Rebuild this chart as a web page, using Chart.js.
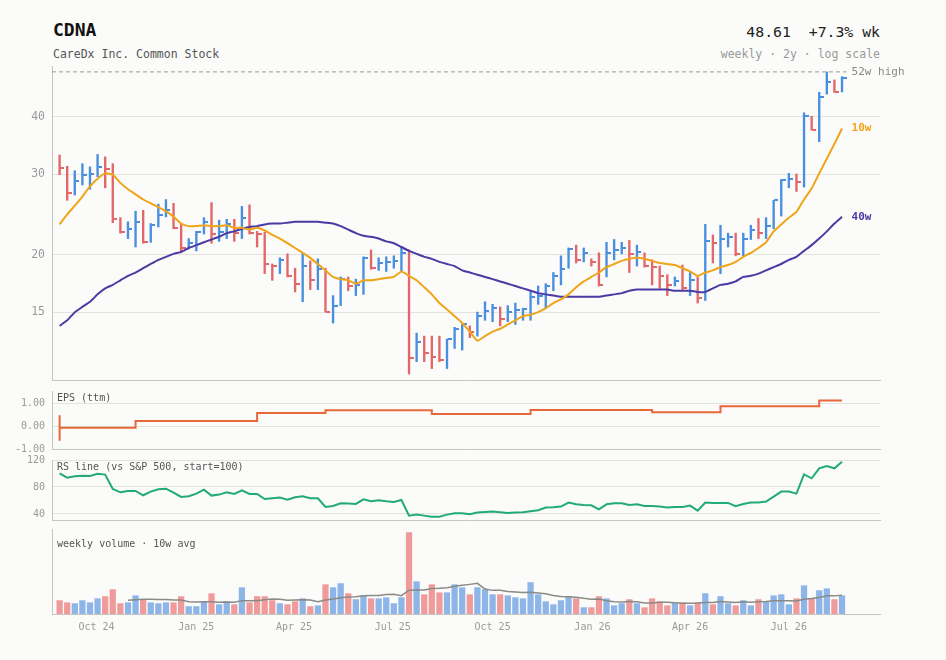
<!DOCTYPE html>
<html><head><meta charset="utf-8">
<script src="https://cdn.jsdelivr.net/npm/chart.js@4.4.1/dist/chart.umd.min.js"></script>
<style>
html,body{margin:0;padding:0;background:#fbfbf9;}
body{width:946px;height:660px;position:relative;overflow:hidden;font-family:"DejaVu Sans Mono",monospace;}
.cv{position:absolute;left:0;}
.t{position:absolute;white-space:pre;}
</style></head><body>
<div class="t" style="left:53px;top:21px;font-size:18px;line-height:18px;font-weight:bold;color:#111">CDNA</div>
<div class="t" style="left:53px;top:47px;font-size:11.5px;line-height:14px;color:#555">CareDx Inc. Common Stock</div>
<div class="t" style="right:66px;top:22.5px;font-size:14.8px;line-height:18px;color:#222;text-align:right">48.61  +7.3% wk</div>
<div class="t" style="right:66px;top:47px;font-size:11.5px;line-height:14px;color:#999;text-align:right">weekly · 2y · log scale</div>

<canvas id="cPrice" class="cv" style="top:60px" width="946" height="325"></canvas>
<canvas id="cEps" class="cv" style="top:383px" width="946" height="73"></canvas>
<canvas id="cRs" class="cv" style="top:452px" width="946" height="71"></canvas>
<canvas id="cVol" class="cv" style="top:522px" width="946" height="112"></canvas>

<div class="t" style="left:57px;top:392px;font-size:10px;line-height:12px;color:#555">EPS (ttm)</div>
<div class="t" style="left:57px;top:461px;font-size:10px;line-height:12px;color:#555">RS line (vs S&amp;P 500, start=100)</div>
<div class="t" style="left:57px;top:538px;font-size:10px;line-height:12px;color:#555">weekly volume · 10w avg</div>

<script>
// ---------------- data ----------------
const firstWeek = '2024-08-28';
const tickDates = ['2024-10-01','2025-01-01','2025-04-01','2025-07-01','2025-10-01','2026-01-01','2026-04-01','2026-07-01'];
const tickLabels = ['Oct 24','Jan 25','Apr 25','Jul 25','Oct 25','Jan 26','Apr 26','Jul 26'];
const priceTicks = [15, 20, 30, 40];
const epsTicks = [-1, 0, 1];
const rsTicks = [40, 80, 120];

const prevClose0 = 31.6;
const closes = [31.0,27.3,29.0,29.9,30.0,31.1,30.8,24.0,22.4,22.8,
  23.6,21.3,23.2,24.4,25.0,22.9,20.7,21.2,22.4,23.6,
  22.2,22.4,23.3,22.3,24.1,22.3,22.2,19.1,18.9,19.5,
  18.0,17.3,18.9,17.6,18.6,15.0,15.5,17.7,17.1,17.2,
  19.7,18.7,19.2,19.3,19.4,20.2,11.9,12.9,12.2,12.0,
  11.8,13.1,13.8,14.1,13.6,14.7,15.1,15.3,14.5,15.0,
  15.15,15.25,16.2,16.3,17.1,18.0,18.6,20.6,19.5,20.2,
  19.3,17.2,20.2,20.5,20.7,20.1,20.3,18.9,18.8,18.0,
  17.2,17.5,16.9,17.6,16.1,21.4,21.2,21.6,21.9,20.1,
  21.6,22.6,22.3,23.1,26.3,29.1,29.3,28.8,40.1,37.4,
  44.1,47.5,45.3,48.61];
const highs = [33.0,31.2,30.5,31.6,31.1,33.1,32.7,31.6,24.1,23.6,
  24.9,25.0,23.4,25.8,26.4,25.9,23.3,21.7,22.5,24.1,
  26.0,23.8,23.9,23.9,25.5,25.7,22.5,22.4,19.1,19.7,
  20.1,18.7,20.2,19.4,19.6,18.7,16.3,17.9,17.9,17.7,
  19.8,20.5,19.7,19.8,19.9,20.8,20.5,13.5,13.3,13.3,
  13.3,13.1,13.9,14.1,14.0,15.0,15.8,15.6,15.4,15.5,
  15.7,15.3,16.6,17.1,17.3,18.3,19.9,20.7,21.0,20.7,
  19.6,20.2,21.3,21.6,21.3,21.5,21.0,20.2,19.5,18.9,
  18.1,17.9,19.0,18.3,17.9,23.3,22.1,23.2,22.3,22.3,
  22.3,23.2,24.0,24.1,26.3,29.2,30.1,30.0,40.8,40.1,
  45.2,50.1,48.1,48.9];
const lows = [29.9,26.3,27.0,28.4,27.8,29.6,28.0,23.5,22.3,21.7,
  20.8,21.2,21.3,23.0,24.2,22.8,20.2,20.6,20.4,22.2,
  21.2,21.4,21.7,21.4,21.7,22.2,20.8,18.2,17.6,18.2,
  17.9,16.6,15.8,16.8,16.8,15.0,14.2,15.5,16.7,16.3,
  16.4,18.6,18.5,18.4,18.7,18.4,11.0,11.7,11.7,11.3,
  11.7,11.3,12.5,12.4,13.2,13.3,14.4,14.3,14.0,14.3,
  14.1,14.4,14.4,15.6,15.3,16.7,17.2,18.7,19.2,19.3,
  18.9,17.1,17.9,19.5,20.1,18.3,18.9,18.8,17.2,16.9,
  16.3,17.1,16.8,16.3,15.7,15.9,19.2,18.2,20.8,19.9,
  19.9,21.6,21.7,21.7,22.8,24.3,28.0,27.5,28.1,37.4,
  35.3,44.8,45.2,45.3];
const ma10 = [23.3,24.5,25.6,26.8,28.2,29.3,30.1,29.9,28.7,27.8,
  27.1,26.4,25.9,25.4,24.9,24.2,23.4,23.1,23.1,23.2,
  23.1,23.1,23.2,22.9,22.9,22.7,22.9,22.6,22.1,21.7,
  21.2,20.7,20.2,19.7,19.1,18.5,17.9,17.7,17.6,17.3,
  17.6,17.6,17.7,17.8,17.9,18.4,18.0,17.6,17.0,16.4,
  15.7,15.2,14.7,14.2,13.6,13.0,13.3,13.6,13.8,14.1,
  14.4,14.7,14.8,15.0,15.3,15.7,16.0,16.4,17.0,17.5,
  17.9,18.3,18.8,19.1,19.4,19.6,19.7,19.6,19.4,19.2,
  19.1,19.0,18.7,18.4,18.0,18.3,18.5,18.8,19.0,19.3,
  19.8,20.2,20.7,21.3,22.5,23.3,24.1,24.8,26.4,27.9,
  30.1,32.4,34.9,37.7];
const ma40 = [14.0,14.4,15.0,15.4,15.8,16.4,16.9,17.2,17.6,18.0,
  18.3,18.7,19.1,19.5,19.8,20.1,20.3,20.7,21.0,21.3,
  21.6,21.9,22.3,22.5,22.8,23.0,23.1,23.3,23.4,23.4,
  23.5,23.6,23.6,23.6,23.6,23.5,23.4,23.1,22.7,22.3,
  22.0,21.9,21.7,21.4,21.2,20.8,20.4,20.1,19.8,19.6,
  19.3,19.1,18.9,18.5,18.3,18.1,17.9,17.7,17.5,17.3,
  17.1,16.9,16.7,16.5,16.4,16.3,16.2,16.2,16.2,16.2,
  16.2,16.2,16.3,16.4,16.5,16.7,16.8,16.8,16.8,16.8,
  16.8,16.7,16.7,16.7,16.6,16.6,16.9,17.2,17.3,17.5,
  17.9,18.0,18.2,18.5,18.8,19.1,19.5,19.8,20.4,21.0,
  21.7,22.5,23.4,24.2];
const volumes = [0.63,0.53,0.49,0.63,0.53,0.72,0.82,1.15,0.49,0.53,
  0.86,0.68,0.53,0.49,0.53,0.53,0.82,0.35,0.35,0.58,
  0.96,0.44,0.58,0.44,1.24,0.53,0.82,0.82,0.63,0.49,
  0.44,0.58,0.72,0.35,0.39,1.38,1.24,1.43,0.96,0.68,
  0.86,0.72,0.72,0.77,0.49,0.77,3.83,1.52,0.91,1.38,
  1.00,1.00,1.38,1.24,0.91,1.24,1.15,0.91,0.91,0.86,
  0.77,0.72,1.48,0.91,0.58,0.44,0.63,0.82,0.72,0.30,
  0.30,0.82,0.72,0.39,0.49,0.68,0.49,0.30,0.72,0.58,
  0.39,0.53,0.53,0.39,0.53,0.96,0.44,0.82,0.49,0.39,
  0.63,0.39,0.68,0.58,0.86,0.91,0.44,0.72,1.33,0.72,
  1.10,1.19,0.68,0.86];
const rsLine = [100,93.8,95.8,96.8,96.3,99.7,98.3,77.0,72.1,74.1,
  74.1,67.7,73.1,76.5,77.5,71.6,65.2,66.2,70.1,76.0,
  67.2,68.7,72.1,69.6,75.1,69.6,69.6,62.2,63.2,64.2,
  61.2,64.7,66.2,63.2,63.2,50.4,51.9,55.8,55.3,54.8,
  61.7,58.8,60.2,58.8,57.8,60.7,37.5,39.0,37.5,36.0,
  36.0,39.0,41.0,41.0,39.5,42.0,43.0,43.5,42.5,41.5,
  42.0,42.5,44.0,45.4,49.4,49.9,50.9,56.8,54.3,53.3,
  52.8,46.9,54.3,55.8,55.8,53.3,54.3,51.9,51.9,50.9,
  49.4,50.4,50.4,52.4,44.9,56.8,56.3,56.3,56.3,51.4,
  54.8,56.8,56.8,58.3,65.7,73.1,73.1,70.1,98.8,92.9,
  107.7,111.1,107.7,117.5];
const epsWeek  = [0, 0, 0, 10, 26, 35, 49, 62, 78, 87, 100, 103];
const epsValue = [0.48, -0.64, -0.07, 0.23, 0.58, 0.70, 0.54, 0.71, 0.62, 0.88, 1.13, 1.13];

// ---------------- style ----------------
const FONT = '"DejaVu Sans Mono", monospace';
const UP = '#4a8fdf', DN = '#e2676b', UPV = '#8db5e8', DNV = '#f09b9b';
const ORANGE = '#f0a417', PURPLE = '#4b3aa3', EPSC = '#e8683a', RSC = '#22aa78', VAVG = '#8a8a86';
const GRID = '#e3e3dd', AXIS = '#c6c6be', TICK = '#9a9a9a';

const WEEK = 7 * 864e5;
const tickPos = tickDates.map(d => (Date.parse(d) - Date.parse(firstWeek)) / WEEK);
const up = closes.map((c, i) => c > (i ? closes[i - 1] : prevClose0));
const last = closes.length - 1;
const hi52 = Math.max(...highs.slice(-52));
const volAvg = volumes.map((v, i) => i < 9 ? null : volumes.slice(i - 9, i + 1).reduce((a, b) => a + b, 0) / 10);

function tickImg(color) {
  const c = document.createElement('canvas');
  c.width = 9; c.height = 2;
  const g = c.getContext('2d');
  g.fillStyle = color; g.fillRect(5, 0, 4, 2);
  return c;
}
const tickUp = tickImg(UP), tickDn = tickImg(DN);

function xAxis(showTicks) {
  return {
    type: 'linear', min: -1, max: 108, offset: false,
    grid: { display: false, drawTicks: false },
    border: { display: true, color: AXIS, width: 1 },
    afterBuildTicks: s => { s.ticks = tickPos.map(v => ({ value: v })); },
    afterFit: s => { s.height = showTicks ? 20 : 0; s.paddingLeft = 0; s.paddingRight = 0; },
    ticks: { display: showTicks, autoSkip: false, maxRotation: 0, minRotation: 0, padding: 7,
      color: TICK, font: { family: FONT, size: 10 }, callback: (v, i) => tickLabels[i] }
  };
}
function yAxis(extra, tickVals, fmt, size) {
  const base = {
    position: 'left',
    afterFit: s => { s.width = 52; s.paddingTop = 0; s.paddingBottom = 0; },
    grid: { color: GRID, drawTicks: false, lineWidth: 1 },
    border: { display: true, color: AXIS, width: 1 },
    ticks: { padding: 7, color: TICK, font: { family: FONT, size: size || 10 }, autoSkip: false,
      callback: fmt || (v => String(v)) }
  };
  if (tickVals) base.afterBuildTicks = s => { s.ticks = tickVals.map(v => ({ value: v })); };
  return Object.assign(base, extra);
}
const common = {
  responsive: false, animation: false,
  plugins: { legend: { display: false }, tooltip: { enabled: false } },
  events: []
};

// ---------------- price panel ----------------
const priceLabels = {
  id: 'priceLabels',
  afterDatasetsDraw(chart) {
    const { ctx, scales: { x, y } } = chart;
    const lx = x.getPixelForValue(last) + 9.5;
    ctx.save();
    ctx.textBaseline = 'middle';
    ctx.font = '11px ' + FONT; ctx.fillStyle = '#8a8a8a';
    ctx.fillText('52w high', lx, y.getPixelForValue(hi52));
    ctx.font = 'bold 11px ' + FONT;
    ctx.fillStyle = ORANGE; ctx.fillText('10w', lx, y.getPixelForValue(ma10[last]));
    ctx.fillStyle = PURPLE; ctx.fillText('40w', lx, y.getPixelForValue(ma40[last]));
    ctx.restore();
  }
};
new Chart(document.getElementById('cPrice'), {
  type: 'bar',
  data: { datasets: [
    { type: 'line', label: '52w high', data: [{ x: -1, y: hi52 }, { x: last + 0.6, y: hi52 }],
      borderColor: '#9a9a9a', borderWidth: 1, borderDash: [4, 3], pointRadius: 0, order: 0 },
    { type: 'line', label: '10w', data: ma10.map((v, i) => ({ x: i, y: v })),
      borderColor: ORANGE, borderWidth: 2, pointRadius: 0, tension: 0.15, order: 0 },
    { type: 'line', label: '40w', data: ma40.map((v, i) => ({ x: i, y: v })),
      borderColor: PURPLE, borderWidth: 2, pointRadius: 0, tension: 0.15, order: 0 },
    { type: 'line', label: 'close', data: closes.map((v, i) => ({ x: i, y: v })), showLine: false,
      pointStyle: c => up[c.dataIndex] ? tickUp : tickDn, pointRadius: 3, order: 1 },
    { type: 'bar', label: 'range', data: highs.map((h, i) => ({ x: i, y: [lows[i], h] })),
      backgroundColor: up.map(u => u ? UP : DN), barThickness: 1.7, borderWidth: 0, order: 2 }
  ] },
  options: Object.assign({}, common, {
    layout: { padding: { left: 0, right: 66, top: 6, bottom: 4 } },
    scales: {
      x: xAxis(false),
      y: yAxis({ type: 'logarithmic', min: 10.67, max: 51.6 }, priceTicks, v => String(v), 11.5)
    }
  }),
  plugins: [priceLabels]
});

// ---------------- EPS panel ----------------
new Chart(document.getElementById('cEps'), {
  type: 'line',
  data: { datasets: [
    { data: epsWeek.map((w, i) => ({ x: w, y: epsValue[i] })), stepped: 'before',
      borderColor: EPSC, borderWidth: 2, pointRadius: 0 }
  ] },
  options: Object.assign({}, common, {
    layout: { padding: { left: 0, right: 66, top: 8, bottom: 7 } },
    scales: {
      x: xAxis(false),
      y: yAxis({ min: -1, max: 1.55 }, epsTicks, v => v.toFixed(2))
    }
  })
});

// ---------------- RS panel ----------------
new Chart(document.getElementById('cRs'), {
  type: 'line',
  data: { datasets: [
    { data: rsLine.map((v, i) => ({ x: i, y: v })), borderColor: RSC, borderWidth: 2, pointRadius: 0 }
  ] },
  options: Object.assign({}, common, {
    layout: { padding: { left: 0, right: 66, top: 8, bottom: 3 } },
    scales: {
      x: xAxis(false),
      y: yAxis({ min: 31, max: 120 }, rsTicks, v => String(v))
    }
  })
});

// ---------------- volume panel ----------------
new Chart(document.getElementById('cVol'), {
  type: 'bar',
  data: { datasets: [
    { type: 'line', data: volAvg.map((v, i) => ({ x: i, y: v })), borderColor: VAVG, borderWidth: 1.5,
      pointRadius: 0, order: 0 },
    { type: 'bar', data: volumes.map((v, i) => ({ x: i, y: v })), backgroundColor: up.map(u => u ? UPV : DNV),
      barThickness: 5.6, borderWidth: 0, order: 1 }
  ] },
  options: Object.assign({}, common, {
    layout: { padding: { left: 0, right: 66, top: 7, bottom: 0 } },
    scales: {
      x: xAxis(true),
      y: { min: 0, max: 4.0, position: 'left', afterFit: s => { s.width = 52; s.paddingTop = 0; s.paddingBottom = 0; },
        grid: { display: false, drawTicks: false }, border: { display: true, color: AXIS },
        ticks: { display: false } }
    }
  })
});
</script>
</body></html>
